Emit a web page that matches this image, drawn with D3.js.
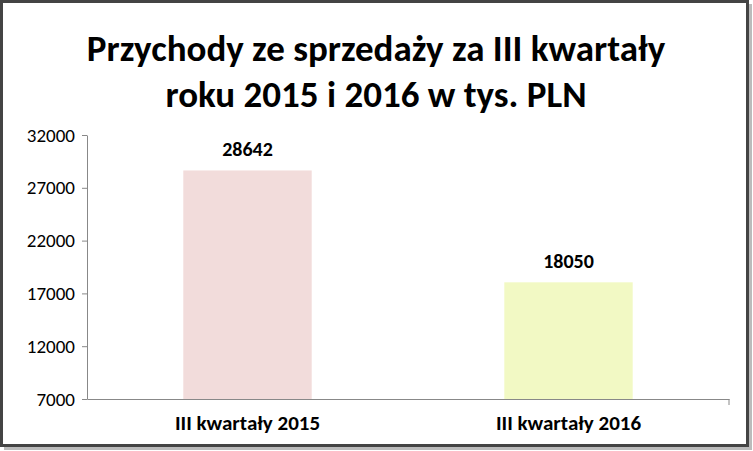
<!DOCTYPE html>
<html><head><meta charset="utf-8">
<script src="https://cdn.jsdelivr.net/npm/d3@7"></script>
<style>body{margin:0;background:#fff}svg{font-family:Carlito,Lato,"Open Sans",sans-serif}</style>
</head><body><div id="chart"></div>
<script>
// Chart values
const categories = ["III kwartały 2015", "III kwartały 2016"];
const values = [28642, 18050];
const colors = ["#f2dcdb", "#f2f9c4"];
const yTicks = [7000, 12000, 17000, 22000, 27000, 32000];

const W = 753, H = 451;
const MARGIN = { left: 87, right: 24, top: 135, bottom: 52 };

const svg = d3.select("#chart").append("svg").attr("width", W).attr("height", H);

// frame with a slight shadow
svg.append("rect").attr("x", 4).attr("y", 4).attr("width", W - 5).attr("height", H - 5).attr("fill", "#bbb");
svg.append("rect").attr("x", 1.5).attr("y", 1.5).attr("width", W - 7).attr("height", H - 7)
    .attr("fill", "#fff").attr("stroke", "#444").attr("stroke-width", 3);

svg.append("text").attr("x", 376).attr("y", 61).attr("text-anchor", "middle")
    .attr("font-size", 37).attr("font-weight", "bold").text("Przychody ze sprzedaży za III kwartały");
svg.append("text").attr("x", 376).attr("y", 107).attr("text-anchor", "middle")
    .attr("font-size", 37).attr("font-weight", "bold").text("roku 2015 i 2016 w tys. PLN");

const x = d3.scaleBand().domain(categories).range([MARGIN.left, W - MARGIN.right])
    .paddingInner(0.6).paddingOuter(0.3);
const y = d3.scaleLinear().domain([7000, 32000]).range([H - MARGIN.bottom, MARGIN.top]);

svg.selectAll(".bar").data(values).enter().append("rect")
    .attr("class", "bar")
    .attr("x", (d, i) => x(categories[i]))
    .attr("y", d => y(d))
    .attr("width", x.bandwidth())
    .attr("height", d => y(7000) - y(d))
    .attr("fill", (d, i) => colors[i]);

svg.selectAll(".lbl").data(values).enter().append("text")
    .attr("x", (d, i) => x(categories[i]) + x.bandwidth() / 2)
    .attr("y", d => y(d) - 14)
    .attr("text-anchor", "middle").attr("font-size", 20).attr("font-weight", "bold")
    .text(d => d);

const yAxis = svg.append("g").attr("transform", `translate(${MARGIN.left},0)`)
    .call(d3.axisLeft(y).tickValues(yTicks).tickSize(5).tickSizeOuter(0).tickPadding(7).tickFormat(d3.format("d")));
yAxis.selectAll("text").attr("font-size", 19).attr("fill", "#000").attr("font-family", "Carlito,Lato,sans-serif");

const xAxis = svg.append("g").attr("transform", `translate(0,${y(7000)})`)
    .call(d3.axisBottom(x).tickSize(0).tickSizeOuter(0).tickPadding(16));
xAxis.selectAll("text").attr("font-size", 21).attr("font-weight", "bold").attr("fill", "#000")
    .attr("font-family", "Carlito,Lato,sans-serif");
svg.append("line").attr("x1", W - MARGIN.right).attr("x2", W - MARGIN.right)
    .attr("y1", y(7000)).attr("y2", y(7000) + 6).attr("stroke", "#888");
svg.selectAll(".domain").attr("stroke", "#888");
svg.selectAll(".tick line").attr("stroke", "#888");
</script></body></html>
